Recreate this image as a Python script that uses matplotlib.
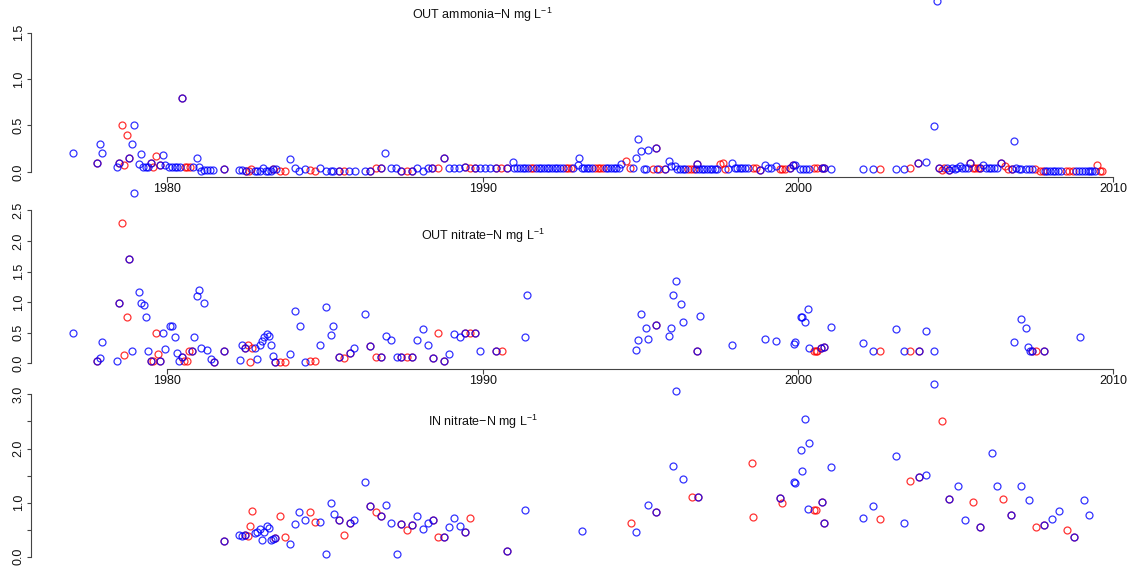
import numpy as np
import matplotlib
matplotlib.use("Agg")
import matplotlib.pyplot as plt

plt.rcParams["font.family"] = ["Liberation Sans", "DejaVu Sans"]
plt.rcParams["mathtext.default"] = "regular"

# ---- data: (year, value) pairs ----
amm_red = [
    (1977.78, .10), (1978.48, .10), (1978.55, .50), (1978.64, .08), (1978.71, .40), (1978.78, .15),
    (1979.47, .10), (1979.56, .05), (1979.63, .17), (1979.77, .08), (1980.47, .80), (1980.56, .05),
    (1980.64, .05), (1980.72, .05), (1981.80, .03), (1982.49, .01), (1982.58, .01), (1982.67, .035),
    (1983.36, .035), (1983.57, .01), (1983.73, .01), (1984.52, .02), (1984.68, .01), (1985.43, .01),
    (1985.61, .01), (1986.43, .01), (1986.61, .045), (1986.77, .04), (1987.42, .01), (1987.59, .01),
    (1987.77, .01), (1988.41, .04), (1988.59, .04), (1988.77, .15), (1989.43, .05), (1989.60, .04),
    (1989.77, .04), (1990.42, .045), (1990.59, .045), (1990.76, .045), (1991.52, .045), (1991.61, .045),
    (1992.63, .045), (1992.71, .045), (1992.80, .045), (1993.56, .045), (1993.65, .045), (1993.73, .045),
    (1993.82, .045), (1994.55, .12), (1994.67, .045), (1995.41, .035), (1995.50, .26), (1995.60, .035),
    (1995.78, .035), (1996.52, .035), (1996.61, .035), (1996.69, .035), (1996.79, .09), (1997.53, .09),
    (1997.61, .10), (1997.69, .035), (1998.58, .04), (1998.67, .04), (1998.79, .02), (1999.43, .03),
    (1999.51, .03), (1999.60, .03), (1999.75, .04), (1999.85, .07), (2000.51, .045), (2000.59, .045),
    (2000.75, .045), (2000.82, .045), (2002.60, .03), (2003.57, .04), (2003.82, .10), (2004.48, .04),
    (2004.56, .02), (2004.64, .045), (2004.80, .02), (2005.45, .10), (2005.54, .045), (2005.62, .04),
    (2005.71, .04), (2005.77, .04), (2006.43, .10), (2006.56, .06), (2006.67, .03), (2006.78, .03),
    (2007.51, .03), (2007.67, .01), (2007.76, .01), (2008.50, .01), (2008.59, .01), (2008.73, .01),
    (2009.50, .07), (2009.58, .01), (2009.66, .01),
]
amm_blue = [
    (1977.02, .20), (1977.78, .10), (1977.85, .30), (1977.94, .20), (1978.39, .05), (1978.48, .10),
    (1978.78, .15), (1978.87, .30), (1978.93, .50), (1979.09, .09), (1979.18, .19), (1979.24, .05),
    (1979.32, .05), (1979.40, .05), (1979.47, .10), (1979.77, .08), (1979.85, .18), (1979.93, .08),
    (1980.06, .05), (1980.15, .05), (1980.23, .05), (1980.32, .05), (1980.40, .05), (1980.47, .80),
    (1980.80, .05), (1980.93, .15), (1981.00, .05), (1981.07, .01), (1981.16, .02), (1981.27, .02),
    (1981.35, .02), (1981.46, .02), (1981.80, .03), (1982.27, .02), (1982.38, .02), (1982.49, .01),
    (1982.77, .015), (1982.85, .01), (1982.94, .01), (1983.02, .04), (1983.12, .01), (1983.20, .01),
    (1983.28, .01), (1983.36, .035), (1983.45, .035), (1983.88, .14), (1984.04, .04), (1984.19, .01),
    (1984.36, .03), (1984.84, .04), (1985.02, .01), (1985.19, .01), (1985.26, .01), (1985.43, .01),
    (1985.77, .01), (1985.94, .01), (1986.27, .01), (1986.43, .01), (1986.77, .04), (1986.92, .20),
    (1987.09, .04), (1987.25, .04), (1987.42, .01), (1987.77, .01), (1987.93, .04), (1988.10, .01),
    (1988.26, .04), (1988.41, .04), (1988.77, .15), (1988.92, .04), (1989.09, .04), (1989.26, .04),
    (1989.43, .05), (1989.77, .04), (1989.92, .045), (1990.08, .045), (1990.25, .045), (1990.42, .045),
    (1990.76, .045), (1990.96, .11),
    (1991.01, .045), (1991.10, .045), (1991.18, .045), (1991.27, .045), (1991.35, .045), (1991.44, .045),
    (1991.69, .045), (1991.78, .045), (1991.86, .045), (1991.95, .045), (1992.03, .045), (1992.12, .045),
    (1992.20, .045), (1992.29, .045), (1992.37, .045), (1992.46, .045), (1992.54, .045), (1992.88, .045),
    (1993.01, .07), (1993.07, .15),
    (1993.14, .045), (1993.22, .045), (1993.31, .045), (1993.39, .045), (1993.48, .045), (1993.90, .045),
    (1993.99, .045), (1994.07, .045), (1994.16, .045), (1994.24, .045), (1994.33, .045),
    (1994.40, .085), (1994.78, .045), (1994.86, .15), (1994.94, .35), (1995.03, .23), (1995.12, .035),
    (1995.18, .035), (1995.24, .24), (1995.50, .26), (1995.52, .035), (1995.78, .035), (1995.90, .12),
    (1995.99, .065), (1996.10, .06),
    (1996.18, .035), (1996.27, .035), (1996.35, .035), (1996.43, .035), (1996.78, .035), (1996.79, .09),
    (1996.86, .035), (1996.95, .035), (1997.03, .035), (1997.12, .035), (1997.20, .035), (1997.29, .035),
    (1997.37, .035), (1997.45, .035), (1997.77, .035), (1997.91, .10),
    (1997.99, .04), (1998.08, .04), (1998.16, .04), (1998.24, .04), (1998.33, .04), (1998.41, .04),
    (1998.79, .02), (1998.95, .07), (1999.06, .04), (1999.16, .04), (1999.32, .06), (1999.75, .04),
    (1999.85, .07), (1999.90, .08), (2000.08, .03), (2000.17, .03), (2000.25, .03), (2000.34, .03),
    (2000.75, .045), (2000.82, .045), (2001.06, .03), (2002.05, .03), (2002.37, .03), (2003.12, .03),
    (2003.38, .03), (2003.82, .10), (2004.06, .11), (2004.31, .49), (2004.41, 1.84), (2004.48, .04),
    (2004.74, .04), (2004.80, .02), (2004.88, .04), (2004.97, .03), (2005.05, .04), (2005.14, .06),
    (2005.22, .04), (2005.31, .04), (2005.39, .04), (2005.45, .10), (2005.77, .04), (2005.88, .07),
    (2005.96, .04), (2006.05, .04), (2006.13, .04), (2006.22, .04), (2006.30, .04), (2006.43, .10),
    (2006.78, .03), (2006.85, .33), (2006.91, .04), (2007.00, .03), (2007.08, .03), (2007.25, .03),
    (2007.34, .03), (2007.42, .03), (2007.83, .01), (2007.91, .01), (2007.99, .01), (2008.08, .01),
    (2008.16, .01), (2008.25, .01), (2008.33, .01), (2008.82, .01), (2008.92, .01), (2009.01, .01),
    (2009.09, .01), (2009.20, .01), (2009.26, .01), (2009.34, .01), (2009.43, .01),
]

nit_out_red = [
    (1977.78, .04), (1978.48, .99), (1978.55, 2.30), (1978.64, .13), (1978.71, .75), (1978.78, 1.70),
    (1979.47, .04), (1979.56, .04), (1979.63, .49), (1979.71, .14), (1979.78, .04), (1980.47, .10),
    (1980.54, .04), (1980.63, .04), (1980.69, .20), (1980.77, .20), (1981.47, .02), (1981.80, .20),
    (1982.46, .25), (1982.55, .30), (1982.62, .02), (1982.70, .25), (1983.42, .01), (1983.58, .01),
    (1983.73, .02), (1984.51, .03), (1984.68, .04), (1985.43, .10), (1985.61, .09), (1985.78, .17),
    (1986.43, .28), (1986.61, .10), (1986.79, .10), (1987.42, .10), (1987.59, .10), (1987.77, .10),
    (1988.42, .09), (1988.59, .49), (1988.77, .04), (1989.43, .49), (1989.59, .50), (1989.77, .50),
    (1990.43, .20), (1990.61, .20), (1995.49, .63), (1996.79, .20), (2000.51, .19), (2000.58, .19),
    (2000.62, .19), (2000.74, .25), (2000.82, .27), (2002.60, .19), (2003.57, .19), (2003.83, .19),
    (2007.44, .19), (2007.55, .19), (2007.81, .19),
]
nit_out_blue = [
    (1977.02, .50), (1977.78, .04), (1977.85, .09), (1977.94, .35), (1978.39, .04), (1978.48, .99),
    (1978.78, 1.70), (1978.87, .20), (1978.93, 2.79), (1979.09, 1.16), (1979.18, .99), (1979.25, .95),
    (1979.32, .75), (1979.40, .19), (1979.47, .04), (1979.78, .04), (1979.85, .50), (1979.93, .23),
    (1980.07, .60), (1980.16, .60), (1980.23, .42), (1980.31, .17), (1980.38, .04), (1980.47, .10),
    (1980.77, .20), (1980.86, .42), (1980.93, 1.10), (1981.00, 1.20), (1981.07, .25), (1981.16, .99),
    (1981.25, .22), (1981.38, .06), (1981.47, .02), (1981.80, .20), (1982.30, .05), (1982.38, .30),
    (1982.46, .25), (1982.77, .25), (1982.85, .06), (1982.93, .29), (1983.00, .36), (1983.08, .43),
    (1983.15, .48), (1983.23, .45), (1983.28, .29), (1983.35, .12), (1983.42, .01), (1983.88, .14),
    (1984.04, .85), (1984.20, .61), (1984.36, .02), (1984.85, .29), (1985.02, .91), (1985.18, .46),
    (1985.27, .60), (1985.43, .10), (1985.78, .17), (1985.93, .25), (1986.28, .81), (1986.43, .28),
    (1986.79, .10), (1986.93, .44), (1987.11, .38), (1987.27, .10), (1987.42, .10), (1987.77, .10),
    (1987.93, .38), (1988.10, .56), (1988.28, .30), (1988.42, .09), (1988.77, .04), (1988.92, .14),
    (1989.10, .47), (1989.27, .42), (1989.43, .49), (1989.77, .50), (1989.92, .20), (1990.43, .20),
    (1991.33, .43), (1991.41, 1.11), (1994.86, .22), (1994.94, .38), (1995.03, .81), (1995.17, .57),
    (1995.24, .40), (1995.49, .63), (1995.90, .45), (1995.96, .58), (1996.05, 1.11), (1996.12, 1.35),
    (1996.29, .97), (1996.36, .68), (1996.79, .20), (1996.91, .77), (1997.91, .29), (1998.95, .39),
    (1999.32, .36), (1999.88, .31), (1999.90, .34), (2000.10, .76), (2000.14, .75), (2000.23, .67),
    (2000.31, .89), (2000.36, .24), (2000.74, .25), (2000.82, .27), (2001.06, .59), (2002.05, .32),
    (2002.37, .19), (2003.12, .55), (2003.38, .19), (2003.83, .19), (2004.07, .52), (2004.31, .19),
    (2006.85, .34), (2007.07, .72), (2007.24, .58), (2007.31, .26), (2007.36, .19), (2007.44, .19),
    (2007.81, .19), (2008.94, .43),
]

nit_in_red = [
    (1981.79, .29), (1982.46, .41), (1982.55, .38), (1982.62, .57), (1982.70, .84), (1983.42, .34),
    (1983.58, .75), (1983.73, .36), (1984.51, .82), (1984.68, .65), (1985.43, .68), (1985.61, .41),
    (1985.78, .62), (1986.43, .93), (1986.61, .83), (1986.78, .75), (1987.42, .60), (1987.59, .50),
    (1987.77, .59), (1988.42, .68), (1988.59, .36), (1988.77, .37), (1989.43, .46), (1989.59, .71),
    (1990.77, .10), (1994.71, .62), (1995.50, .83), (1996.63, 1.11), (1996.82, 1.10), (1998.53, 1.73),
    (1998.59, .74), (1999.42, 1.08), (1999.51, 1.00), (2000.51, .87), (2000.58, .86), (2000.77, 1.02),
    (2000.84, .63), (2002.60, .69), (2003.57, 1.40), (2003.83, 1.47), (2004.56, 2.50), (2004.80, 1.07),
    (2005.56, 1.02), (2005.79, .55), (2006.51, 1.07), (2006.77, .78), (2007.55, .54), (2007.79, .59),
    (2008.52, .49), (2008.76, .36),
]
nit_in_blue = [
    (1981.79, .29), (1982.28, .41), (1982.38, .39), (1982.46, .41), (1982.77, .43), (1982.84, .46),
    (1982.93, .51), (1983.01, .31), (1983.08, .46), (1983.15, .57), (1983.23, .53), (1983.28, .31),
    (1983.35, .33), (1983.42, .34), (1983.88, .23), (1984.04, .60), (1984.19, .83), (1984.37, .67),
    (1984.85, .65), (1985.02, .05), (1985.18, .99), (1985.29, .79), (1985.43, .68), (1985.78, .62),
    (1985.93, .67), (1986.28, 1.38), (1986.43, .93), (1986.78, .75), (1986.93, .96), (1987.11, .62),
    (1987.27, .05), (1987.42, .60), (1987.77, .59), (1987.93, .75), (1988.10, .51), (1988.28, .63),
    (1988.42, .68), (1988.77, .37), (1988.92, .54), (1989.10, .71), (1989.27, .57), (1989.43, .46),
    (1990.77, .10), (1991.33, .87), (1993.16, .47), (1994.86, .46), (1995.24, .96), (1995.50, .83),
    (1996.05, 1.67), (1996.12, 3.07), (1996.36, 1.44), (1996.82, 1.10), (1999.42, 1.08), (1999.88, 1.39),
    (1999.90, 1.37), (2000.11, 1.98), (2000.14, 1.59), (2000.23, 2.54), (2000.31, .88), (2000.36, 2.11),
    (2000.77, 1.02), (2000.84, .63), (2001.06, 1.65), (2002.05, .72), (2002.37, .94), (2003.12, 1.87),
    (2003.38, .62), (2003.83, 1.47), (2004.07, 1.51), (2004.31, 3.19), (2004.80, 1.07), (2005.07, 1.31),
    (2005.31, .67), (2005.79, .55), (2006.17, 1.92), (2006.33, 1.30), (2006.77, .78), (2007.07, 1.31),
    (2007.34, 1.04), (2007.79, .59), (2008.07, .69), (2008.29, .84), (2008.76, .36), (2009.06, 1.05),
    (2009.24, .78),
]

titles = ["OUT ammonia\u2212N mg L$^{-1}$", "OUT nitrate\u2212N mg L$^{-1}$", "IN nitrate\u2212N mg L$^{-1}$"]
xticks = [1980, 1990, 2000, 2010]

# ---- layout (pixels on a 1134x566 canvas) ----
W, H = 1134, 566
XLIM = (1976.5, 2010.5)
PX1980, PPY = 167.3, 31.53
AX_LEFT = PX1980 - (1980 - XLIM[0]) * PPY
AX_W = (XLIM[1] - XLIM[0]) * PPY
YAXIS_PX = 31.0
AX_COL = "#444444"

fig = plt.figure(figsize=(W / 100, H / 100), dpi=100)


def make_panel(zero_px, ppu, ylim):
    top = zero_px - ylim[1] * ppu
    bot = zero_px - ylim[0] * ppu
    ax = fig.add_axes([AX_LEFT / W, 1 - bot / H, AX_W / W, (bot - top) / H])
    ax.set_xlim(*XLIM)
    ax.set_ylim(*ylim)
    ax.patch.set_visible(False)
    for s in ["top", "right"]:
        ax.spines[s].set_visible(False)
    ax.spines["left"].set_position(("outward", (AX_LEFT - YAXIS_PX) * 0.72))
    ax.spines["left"].set_color(AX_COL)
    ax.spines["bottom"].set_color(AX_COL)
    ax.spines["left"].set_linewidth(0.8)
    ax.spines["bottom"].set_linewidth(0.8)
    ax.tick_params(colors=AX_COL, labelcolor="#111111", labelsize=9, width=0.8)
    ax.tick_params(axis="y", length=3, pad=1.5, labelrotation=90)
    ax.tick_params(axis="x", length=3.6, pad=0.5)
    return ax


def draw(ax, red, blue):
    r = np.array(red).T
    b = np.array(blue).T
    ax.plot(r[0], r[1], "o", ms=5.0, mfc="none", mec=(1, 0, 0, 0.8), mew=0.9, clip_on=False)
    ax.plot(b[0], b[1], "o", ms=5.0, mfc="none", mec=(0, 0, 1, 0.8), mew=0.9, clip_on=False)


panels = [
    dict(zero=172.0, ppu=93.0, ylim=(-0.1, 1.86), axis_px=177.0,
         yt=[0, 0.5, 1.0, 1.5], ytl=["0.0", "0.5", "1.0", "1.5"], ty=1.69,
         red=amm_red, blue=amm_blue),
    dict(zero=363.0, ppu=61.0, ylim=(-0.15, 2.9), axis_px=369.0,
         yt=[0, 0.5, 1.0, 1.5, 2.0, 2.5], ytl=["0.0", "0.5", "1.0", "1.5", "2.0", "2.5"], ty=2.08,
         red=nit_out_red, blue=nit_out_blue),
    dict(zero=556.7, ppu=54.1, ylim=(-0.2, 3.3), axis_px=None,
         yt=[0, 0.5, 1.0, 1.5, 2.0, 2.5, 3.0], ytl=["0.0", "", "1.0", "", "2.0", "", "3.0"], ty=2.49,
         red=nit_in_red, blue=nit_in_blue),
]

for p, title in zip(panels, titles):
    ax = make_panel(p["zero"], p["ppu"], p["ylim"])
    ax.set_yticks(p["yt"])
    ax.set_yticklabels(p["ytl"])
    for lab in ax.get_yticklabels():
        lab.set_va("center")
    ax.spines["left"].set_bounds(p["yt"][0], p["yt"][-1])
    if p["axis_px"] is None:
        ax.spines["bottom"].set_visible(False)
        ax.set_xticks([])
    else:
        ax.spines["bottom"].set_position(("data", (p["zero"] - p["axis_px"]) / p["ppu"]))
        ax.spines["bottom"].set_bounds(xticks[0], xticks[-1])
        ax.set_xticks(xticks)
        ax.set_xticklabels([str(t) for t in xticks])
    draw(ax, p["red"], p["blue"])
    ax.text(1990, p["ty"], title, ha="center", va="center", fontsize=9, color="#111111")

fig.savefig("out.png", dpi=100)
